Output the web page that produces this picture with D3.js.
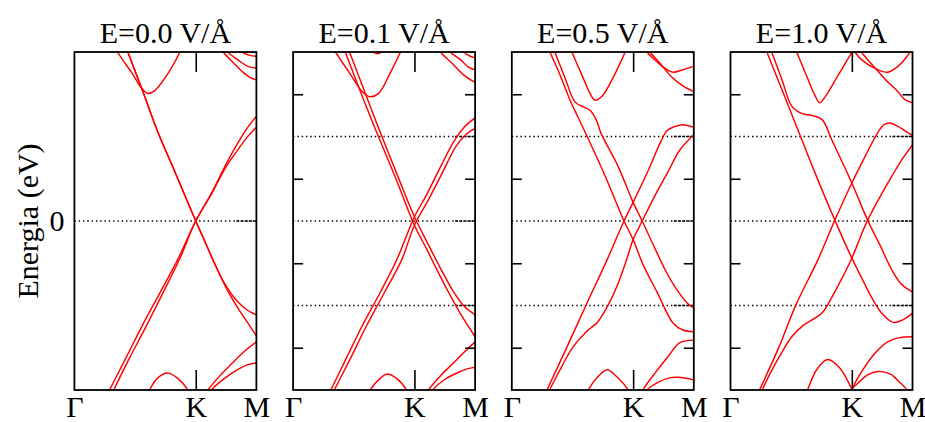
<!DOCTYPE html>
<html>
<head>
<meta charset="utf-8">
<script src="https://cdn.jsdelivr.net/npm/d3@7"></script>
<style>
  body { margin: 0; background: #fff; }
  svg text { font-family: "Liberation Serif", "Times New Roman", serif; fill: #000; }
</style>
</head>
<body>
<svg id="chart" width="925" height="422"></svg>
<script>
// Panel titles (applied electric field)
const fieldLabels = ["E=0.0 V/Å", "E=0.1 V/Å", "E=0.5 V/Å", "E=1.0 V/Å"];
// High-symmetry path: Γ = 0, K = 2, M = 3 (|ΓK| = 2|KM|)
const kPoints = [0, 2, 3];
const kLabels = ["Γ", "K", "M"];
// Energy axis (eV)
const energyTicks = [-1.5, -0.5, 0.5, 1.5];
const refLevels = [[0], [-1, 0, 1], [-1, 0, 1], [-1, 0, 1]];

// Bands as [k, E] samples, one array per band
const bandsE00 = [
  [[0.68,2.05],[0.71,2.00],[0.95,1.75],[1.11,1.57],[1.21,1.51],[1.32,1.54],[1.52,1.72],[1.74,2.00],[1.77,2.05]],
  [[0.85,2.06],[0.88,2.00],[1.13,1.53],[1.36,1.08],[1.67,0.56],[2.00,0.00],[2.15,-0.24],[2.30,-0.49],[2.46,-0.72],[2.66,-0.93],[2.84,-1.05],[3.00,-1.11]],
  [[0.85,2.06],[0.88,2.00],[1.13,1.53],[1.36,1.08],[1.67,0.56],[2.00,0.00],[2.16,-0.26],[2.33,-0.53],[2.53,-0.83],[2.73,-1.07],[2.89,-1.24],[3.00,-1.36]],
  [[0.55,-2.05],[0.58,-2.00],[0.85,-1.62],[1.11,-1.25],[1.41,-0.85],[1.70,-0.46],[2.00,0.00],[2.26,0.33],[2.49,0.66],[2.69,0.92],[2.86,1.11],[3.00,1.24]],
  [[0.62,-2.05],[0.65,-2.00],[0.91,-1.62],[1.18,-1.25],[1.46,-0.85],[1.74,-0.44],[2.00,0.00],[2.26,0.32],[2.49,0.63],[2.73,0.88],[2.87,1.01],[3.00,1.11]],
  [[2.40,2.05],[2.45,2.00],[2.61,1.88],[2.78,1.76],[2.89,1.70],[3.00,1.67]],
  [[2.49,2.05],[2.53,2.00],[2.69,1.91],[2.86,1.83],[3.00,1.81]],
  [[2.74,2.05],[2.77,2.00],[2.89,1.96],[3.00,1.95]],
  [[1.21,-2.05],[1.24,-2.00],[1.37,-1.86],[1.54,-1.80],[1.70,-1.86],[1.87,-2.00],[1.90,-2.05]],
  [[2.16,-2.05],[2.20,-2.00],[2.40,-1.83],[2.59,-1.69],[2.79,-1.55],[3.00,-1.43]],
  [[2.23,-2.05],[2.26,-2.00],[2.48,-1.86],[2.69,-1.76],[2.86,-1.70],[3.00,-1.68]]
];

const bandsE01 = [
  [[0.66,2.05],[0.70,2.00],[0.95,1.73],[1.14,1.53],[1.27,1.47],[1.41,1.51],[1.60,1.75],[1.77,2.00],[1.80,2.05]],
  [[1.24,2.04],[1.39,1.98],[1.54,2.04]],
  [[0.83,2.06],[0.86,2.00],[1.11,1.53],[1.36,1.08],[1.69,0.51],[2.00,-0.05],[2.20,-0.33],[2.38,-0.59],[2.56,-0.84],[2.76,-1.10],[3.00,-1.37]],
  [[0.90,2.06],[0.93,2.00],[1.18,1.53],[1.42,1.08],[1.72,0.54],[2.00,0.05],[2.23,-0.28],[2.43,-0.56],[2.63,-0.82],[2.82,-1.01],[3.00,-1.11]],
  [[0.58,-2.05],[0.62,-2.00],[0.88,-1.62],[1.14,-1.24],[1.44,-0.84],[1.72,-0.44],[2.00,0.05],[2.20,0.31],[2.43,0.64],[2.64,0.93],[2.82,1.11],[3.00,1.22]],
  [[0.65,-2.05],[0.68,-2.00],[0.95,-1.62],[1.21,-1.24],[1.51,-0.84],[1.79,-0.46],[2.00,-0.05],[2.23,0.25],[2.46,0.57],[2.69,0.89],[2.86,1.03],[3.00,1.10]],
  [[2.40,2.05],[2.43,2.00],[2.63,1.86],[2.81,1.73],[3.00,1.64]],
  [[2.56,2.05],[2.59,2.00],[2.76,1.91],[2.89,1.82],[3.00,1.79]],
  [[2.77,2.05],[2.81,2.00],[2.92,1.95],[3.00,1.93]],
  [[1.24,-2.05],[1.27,-2.00],[1.44,-1.86],[1.55,-1.81],[1.70,-1.86],[1.87,-2.00],[1.90,-2.05]],
  [[2.20,-2.05],[2.23,-2.00],[2.43,-1.83],[2.63,-1.69],[2.81,-1.56],[3.00,-1.43]],
  [[2.26,-2.05],[2.30,-2.00],[2.51,-1.87],[2.73,-1.79],[2.87,-1.75],[3.00,-1.73]]
];

const bandsE05 = [
  [[0.96,2.05],[0.99,2.00],[1.16,1.72],[1.29,1.51],[1.37,1.43],[1.49,1.48],[1.65,1.67],[1.87,2.00],[1.90,2.05]],
  [[0.60,2.06],[0.63,2.00],[0.80,1.72],[0.96,1.43],[1.09,1.23],[1.21,1.05],[1.54,0.53],[1.85,0.00],[2.00,-0.22],[2.16,-0.51],[2.40,-0.85],[2.66,-1.21],[2.82,-1.29],[3.00,-1.31]],
  [[0.68,2.06],[0.71,2.00],[0.88,1.69],[1.04,1.41],[1.18,1.35],[1.29,1.31],[1.39,1.20],[1.47,1.04],[1.75,0.65],[2.00,0.22],[2.15,0.00],[2.35,-0.31],[2.53,-0.58],[2.69,-0.78],[2.89,-0.97],[3.00,-1.03]],
  [[0.55,-2.05],[0.58,-2.00],[0.91,-1.49],[1.24,-0.97],[1.57,-0.46],[1.85,0.00],[2.00,0.22],[2.25,0.60],[2.45,0.93],[2.56,1.07],[2.69,1.12],[2.82,1.14],[3.00,1.11]],
  [[0.58,-2.05],[0.62,-2.00],[0.81,-1.74],[1.01,-1.49],[1.26,-1.29],[1.41,-1.20],[1.57,-1.02],[1.74,-0.76],[1.90,-0.44],[2.00,-0.22],[2.15,0.00],[2.36,0.30],[2.58,0.59],[2.77,0.84],[3.00,1.02]],
  [[2.20,2.05],[2.23,2.00],[2.40,1.88],[2.56,1.79],[2.66,1.76],[2.82,1.79],[3.00,1.83]],
  [[2.25,2.05],[2.28,2.00],[2.45,1.86],[2.64,1.70],[2.82,1.60],[3.00,1.53]],
  [[2.91,2.05],[2.96,2.01],[3.00,1.98]],
  [[1.23,-2.05],[1.26,-2.00],[1.41,-1.85],[1.57,-1.76],[1.74,-1.85],[1.92,-2.00],[1.95,-2.05]],
  [[2.13,-2.05],[2.16,-2.00],[2.36,-1.80],[2.58,-1.60],[2.77,-1.44],[3.00,-1.41]],
  [[2.20,-2.05],[2.23,-2.00],[2.41,-1.91],[2.58,-1.86],[2.74,-1.85],[3.00,-1.88]]
];

const bandsE10 = [
  [[1.06,2.05],[1.09,2.00],[1.27,1.69],[1.39,1.49],[1.47,1.40],[1.57,1.48],[1.77,1.72],[2.00,2.00],[2.03,2.05]],
  [[0.57,2.06],[0.60,2.00],[0.85,1.55],[1.11,1.08],[1.41,0.54],[1.72,0.01],[2.00,-0.44],[2.16,-0.67],[2.33,-0.91],[2.49,-1.09],[2.68,-1.20],[2.84,-1.17],[3.00,-1.09]],
  [[0.65,2.06],[0.68,2.00],[0.85,1.67],[1.01,1.36],[1.18,1.27],[1.34,1.25],[1.51,1.20],[1.67,0.96],[2.00,0.45],[2.26,0.01],[2.46,-0.28],[2.66,-0.58],[2.82,-0.75],[3.00,-0.84]],
  [[0.45,-2.05],[0.48,-2.00],[0.80,-1.49],[1.08,-0.99],[1.44,-0.46],[1.72,0.01],[2.00,0.45],[2.23,0.78],[2.43,1.05],[2.53,1.14],[2.63,1.16],[2.76,1.12],[2.87,1.07],[3.00,1.01]],
  [[0.48,-2.05],[0.52,-2.00],[0.65,-1.81],[0.81,-1.60],[1.01,-1.37],[1.21,-1.23],[1.39,-1.15],[1.52,-1.08],[1.65,-0.93],[1.80,-0.73],[2.00,-0.44],[2.13,-0.21],[2.26,0.01],[2.46,0.28],[2.66,0.53],[2.82,0.72],[3.00,0.90]],
  [[2.02,2.05],[2.05,2.00],[2.21,1.88],[2.40,1.80],[2.59,1.76],[2.76,1.83],[2.96,2.00],[2.99,2.04]],
  [[2.13,2.05],[2.16,2.00],[2.36,1.83],[2.56,1.67],[2.76,1.53],[2.87,1.44],[3.00,1.40]],
  [[1.24,-2.05],[1.27,-2.00],[1.42,-1.76],[1.60,-1.64],[1.80,-1.74],[2.00,-1.99],[2.03,-2.04]],
  [[1.97,-2.05],[2.00,-1.99],[2.20,-1.74],[2.40,-1.55],[2.59,-1.43],[2.79,-1.38],[3.00,-1.37]],
  [[1.97,-2.05],[2.00,-1.99],[2.10,-1.92],[2.26,-1.82],[2.43,-1.78],[2.63,-1.81],[2.79,-1.91],[2.91,-2.00],[2.94,-2.05]]
];

const panelBands = [bandsE00, bandsE01, bandsE05, bandsE10];

// Layout
const svg = d3.select("#chart");
const plotTop = 52, plotBottom = 390;
const panelWidth = 182, panelStep = 218.7, firstLeft = 74.4;
const fontSize = 30;
const serif = "'Liberation Serif', 'Times New Roman', serif";

const y = d3.scaleLinear().domain([-2, 2]).range([plotBottom, plotTop]);

const lineGen = d3.line().curve(d3.curveCatmullRom.alpha(0.5));

panelBands.forEach((bands, i) => {
  const left = firstLeft + i * panelStep;
  const right = left + panelWidth;
  const x = d3.scaleLinear().domain([0, 3]).range([left, right]);
  const g = svg.append("g");

  const clipId = "clip" + i;
  svg.append("clipPath").attr("id", clipId)
    .append("rect").attr("x", left).attr("y", plotTop)
    .attr("width", panelWidth).attr("height", plotBottom - plotTop);

  // dotted reference levels; the last stretch before the right border is denser
  g.selectAll("line.ref").data(refLevels[i]).join("line")
    .attr("class", "ref")
    .attr("x1", left).attr("x2", right)
    .attr("y1", d => y(d)).attr("y2", d => y(d))
    .attr("stroke", "#000").attr("stroke-width", 1.5)
    .attr("stroke-dasharray", "1.4,2.9");
  g.selectAll("line.refEnd").data(refLevels[i]).join("line")
    .attr("class", "refEnd")
    .attr("x1", right - 20).attr("x2", right)
    .attr("y1", d => y(d)).attr("y2", d => y(d))
    .attr("stroke", "#000").attr("stroke-width", 1.5)
    .attr("stroke-dasharray", "2.5,1.6");

  // bands
  lineGen.x(d => x(d[0])).y(d => y(d[1]));
  g.append("g").attr("clip-path", `url(#${clipId})`)
    .selectAll("path").data(bands).join("path")
    .attr("d", lineGen)
    .attr("fill", "none").attr("stroke", "#ff0000").attr("stroke-width", 1.45);

  // K ticks (top and bottom, inward)
  const kTick = [kPoints[1]];
  g.append("g").attr("transform", `translate(0,${plotBottom})`)
    .call(d3.axisBottom(x).tickValues(kTick).tickSizeInner(-20).tickSizeOuter(0).tickFormat(""))
    .call(a => a.select(".domain").remove())
    .selectAll("line").attr("stroke-width", 1.6);
  g.append("g").attr("transform", `translate(0,${plotTop})`)
    .call(d3.axisTop(x).tickValues(kTick).tickSizeInner(-20).tickSizeOuter(0).tickFormat(""))
    .call(a => a.select(".domain").remove())
    .selectAll("line").attr("stroke-width", 1.6);

  // k-point labels
  g.append("g").attr("transform", `translate(0,${plotBottom})`)
    .call(d3.axisBottom(x).tickValues(kPoints).tickSize(0).tickPadding(6)
      .tickFormat((d, j) => kLabels[j]))
    .call(a => a.select(".domain").remove())
    .selectAll("text").attr("font-size", fontSize)
    .style("font-family", serif);

  if (i > 0) {
    g.append("g").attr("transform", `translate(${left},0)`)
      .call(d3.axisLeft(y).tickValues(energyTicks).tickSizeInner(-10).tickSizeOuter(0).tickFormat(""))
      .call(a => a.select(".domain").remove())
      .selectAll("line").attr("stroke-width", 1.6);
    g.append("g").attr("transform", `translate(${right},0)`)
      .call(d3.axisRight(y).tickValues(energyTicks).tickSizeInner(-10).tickSizeOuter(0).tickFormat(""))
      .call(a => a.select(".domain").remove())
      .selectAll("line").attr("stroke-width", 1.6);
  } else {
    g.append("g").attr("transform", `translate(${left},0)`)
      .call(d3.axisLeft(y).tickValues([0]).tickSize(0).tickPadding(10).tickFormat(d3.format("d")))
      .call(a => a.select(".domain").remove())
      .selectAll("text").attr("font-size", fontSize)
      .style("font-family", serif);
  }

  // frame
  g.append("rect")
    .attr("x", left).attr("y", plotTop)
    .attr("width", panelWidth).attr("height", plotBottom - plotTop)
    .attr("fill", "none").attr("stroke", "#000").attr("stroke-width", 1.8);

  // title
  g.append("text")
    .attr("x", left + panelWidth / 2).attr("y", 43)
    .attr("text-anchor", "middle").attr("font-size", fontSize)
    .text(fieldLabels[i]);
});

// y-axis title
svg.append("text")
  .attr("transform", `translate(38,${y(0)}) rotate(-90)`)
  .attr("text-anchor", "middle").attr("font-size", fontSize)
  .text("Energia (eV)");
</script>
</body>
</html>
